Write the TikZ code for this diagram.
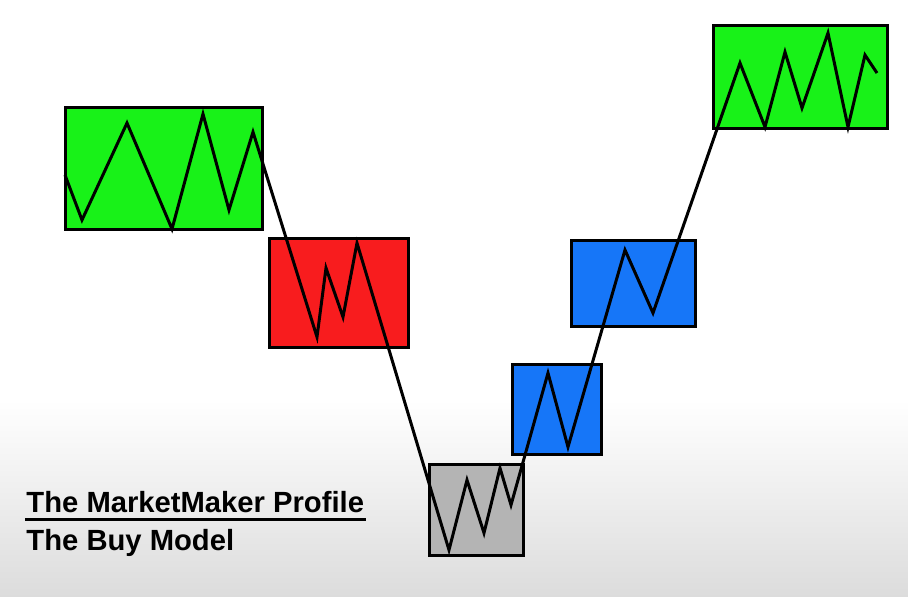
\documentclass[tikz,border=0pt]{standalone}
\usepackage{fontspec}
\setmainfont{Liberation Sans}
\usepackage{tikz}

\definecolor{mmgreen}{RGB}{24,242,24}
\definecolor{mmred}{RGB}{248,28,30}
\definecolor{mmblue}{RGB}{22,118,248}
\definecolor{mmgrey}{RGB}{180,180,180}
\definecolor{bggrey}{RGB}{220,220,220}

\begin{document}
\begin{tikzpicture}[x=1pt, y=-1pt, line width=3pt]
	\useasboundingbox (0, 0) rectangle (908, 597);
	% background
	\fill[white] (0, 0) rectangle (908, 400);
	\shade[top color=white, bottom color=bggrey] (0, 400) rectangle (908, 597);

	% the boxes
	\filldraw[color=mmgreen, draw=black]
	(65, 107) rectangle (262, 229);
	\filldraw[color=mmred, draw=black]
	(269, 238) rectangle (408, 347);
	\filldraw[color=mmgrey, draw=black]
	(429, 464) rectangle (523, 555);
	\filldraw[color=mmblue, draw=black]
	(512, 364) rectangle (601, 454);
	\filldraw[color=mmblue, draw=black]
	(571, 240) rectangle (695, 326);
	\filldraw[color=mmgreen, draw=black]
	(713, 25) rectangle (887, 128);

	% price path
	\draw (65, 175) -- (82, 220) -- (127, 123) -- (172, 229) -- (203, 114)
	-- (229, 210) -- (253, 132) -- (317, 337) -- (326, 268) -- (343, 317)
	-- (357, 243) -- (449, 550) -- (467, 480) -- (484, 533) -- (500, 468)
	-- (511, 505) -- (548, 373) -- (568, 447) -- (625, 250) -- (653, 313)
	-- (740, 63) -- (765, 127) -- (785, 52) -- (802, 108) -- (828, 33)
	-- (848, 127) -- (865, 55) -- (877, 73);

	\node[anchor=base west, inner sep=0pt, font=\fontsize{29.2}{34}\selectfont\bfseries]
	(profile) at (25, 512) {The MarketMaker Profile};
	\node[anchor=base west, inner sep=0pt, font=\fontsize{29.2}{34}\selectfont\bfseries]
	(buymodel) at (25, 550) {The Buy Model};
	\draw ([yshift=-6pt]profile.south west) -- ([yshift=-6pt]profile.south east);
\end{tikzpicture}
\end{document}
